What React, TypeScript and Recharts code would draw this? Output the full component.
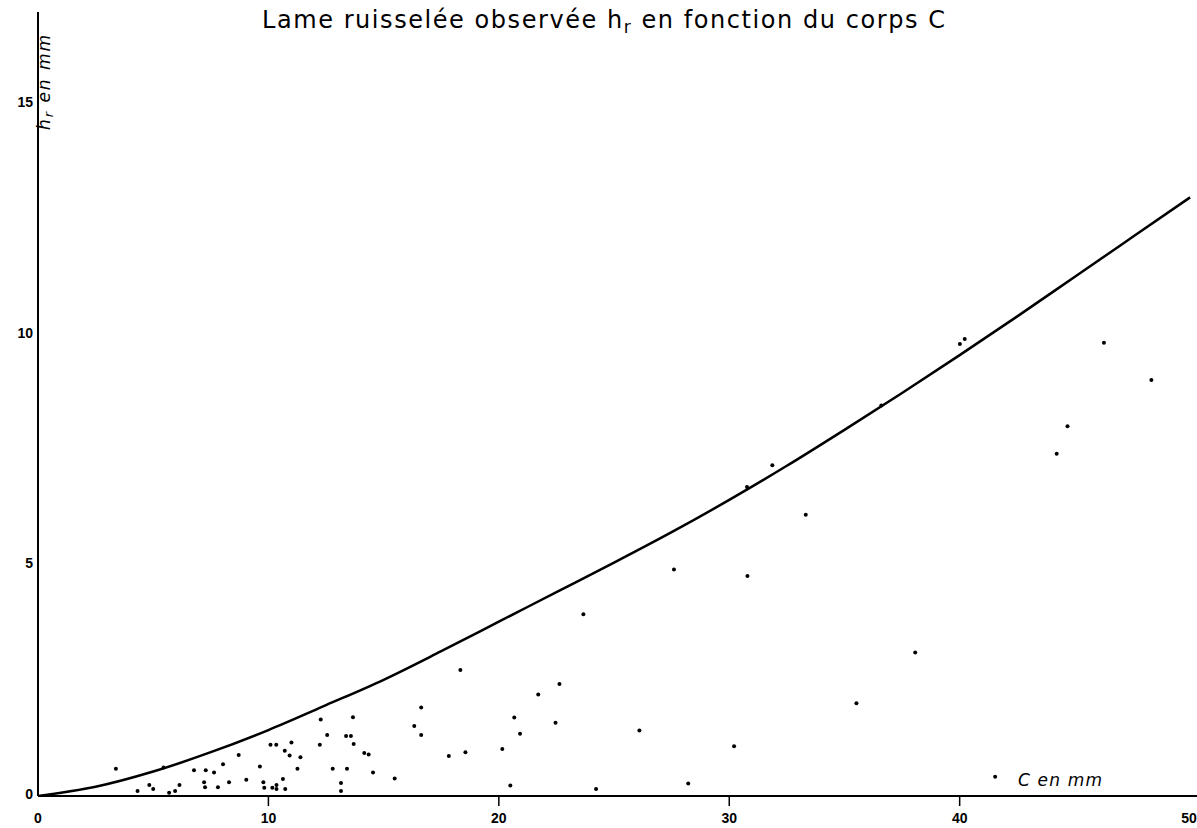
import React from "react";
import { ComposedChart, Line, Scatter, XAxis, YAxis } from "recharts";

const xTicks = [0, 10, 20, 30, 40, 50];
const yTicks = [0, 5, 10, 15];

// fitted envelope curve hr = f(C)
const curveC = [0, 2.5, 5, 7.5, 10, 12.5, 15, 17.5, 20, 22.5, 25, 27.5, 30, 32.5, 35, 37.5, 40, 42.5, 45, 47.5, 50];
const curveH = [0, 0.2, 0.53, 0.95, 1.43, 1.97, 2.52, 3.14, 3.78, 4.42, 5.06, 5.72, 6.42, 7.16, 7.94, 8.74, 9.56, 10.4, 11.26, 12.12, 12.98];

// observed points (C, hr)
const obsC = [
  3.38, 5.45, 4.32, 4.83, 5.0, 5.69, 5.95, 6.14, 6.77, 7.28, 7.21, 7.25, 7.64, 7.81, 8.03, 8.29,
  8.71, 9.04, 9.63, 9.78, 9.82, 10.09, 10.34, 10.17, 10.35, 10.35, 10.63, 10.71, 10.73, 10.92,
  11.0, 11.39, 11.26, 12.27, 12.23, 12.55, 12.79, 13.15, 13.15, 13.37, 13.58, 13.67, 13.7, 13.41,
  14.16, 14.35, 14.54, 15.48, 16.33, 16.63, 16.63, 17.83, 18.55, 18.33, 20.15, 20.5, 20.67, 20.92,
  21.71, 22.46, 22.63, 23.67, 24.22, 26.1, 27.6, 28.22, 30.21, 30.79, 30.77, 31.87, 33.32, 36.6,
  38.07, 35.52, 40.01, 40.22, 41.54, 44.21, 44.68, 46.26, 48.32,
];
const obsH = [
  0.59, 0.62, 0.11, 0.24, 0.15, 0.07, 0.11, 0.24, 0.56, 0.56, 0.3, 0.19, 0.51, 0.19, 0.69, 0.3,
  0.89, 0.35, 0.64, 0.3, 0.18, 1.11, 1.11, 0.18, 0.24, 0.15, 0.37, 0.98, 0.15, 0.88,
  1.16, 0.84, 0.59, 1.66, 1.11, 1.32, 0.59, 0.28, 0.11, 1.3, 1.3, 1.71, 1.13, 0.59,
  0.93, 0.9, 0.51, 0.38, 1.52, 1.92, 1.32, 0.87, 0.95, 2.73, 1.02, 0.23, 1.7, 1.35,
  2.2, 1.59, 2.43, 3.94, 0.15, 1.42, 4.91, 0.27, 1.08, 4.77, 6.7, 7.17, 6.1, 8.47,
  3.11, 2.01, 9.8, 9.91, 0.42, 7.42, 8.02, 9.83, 9.02,
];

const curveData = curveC.map((c, i) => ({ c, h: curveH[i] }));
const obsData = obsC.map((c, i) => ({ c, h: obsH[i] }));

const tickFont = "'Liberation Sans', Arial, sans-serif";

function XTick(props: any) {
  const { x, payload } = props;
  const v = payload.value;
  return (
    <g>
      {v > 0 && v < 50 && <line x1={x} x2={x} y1={796} y2={806} stroke="#000" strokeWidth={1.5} />}
      <text x={x} y={823} textAnchor="middle" fontFamily={tickFont} fontWeight="bold" fontSize={14} fill="#000">
        {v}
      </text>
    </g>
  );
}

function YTick(props: any) {
  const { y, payload } = props;
  return (
    <text x={33} y={y + 3} textAnchor="end" fontFamily={tickFont} fontWeight="bold" fontSize={14} fill="#000">
      {payload.value}
    </text>
  );
}

function Dot(props: any) {
  return <circle cx={props.cx} cy={props.cy} r={2} fill="#000" />;
}

export default function App() {
  return (
    <div style={{ position: "absolute", left: 0, top: 0, width: 1197, height: 828, background: "#fff" }}>
      <ComposedChart width={1197} height={828} margin={{ top: 12, right: 0, bottom: 0, left: 0 }}>
        <XAxis
          dataKey="c"
          type="number"
          domain={[0, 50.3]}
          ticks={xTicks}
          height={32}
          axisLine={{ stroke: "#000", strokeWidth: 2 }}
          tickLine={false}
          tick={<XTick />}
          allowDataOverflow
        />
        <YAxis
          dataKey="h"
          type="number"
          domain={[0, 17]}
          ticks={yTicks}
          width={38}
          axisLine={{ stroke: "#000", strokeWidth: 2 }}
          tickLine={false}
          tick={<YTick />}
          allowDataOverflow
        />
        <Line
          data={curveData}
          dataKey="h"
          type="monotone"
          stroke="#000"
          strokeWidth={2.5}
          dot={false}
          activeDot={false}
          isAnimationActive={false}
        />
        <Scatter data={obsData} dataKey="h" shape={<Dot />} isAnimationActive={false} />
      </ComposedChart>
      <svg
        width={1197}
        height={828}
        style={{ position: "absolute", left: 0, top: 0, pointerEvents: "none" }}
      >
        <text x={262} y={28} fontFamily="'DejaVu Sans', sans-serif" fontSize={24} fill="#000" textLength={683} lengthAdjust="spacing">
          Lame ruisselée observée h
          <tspan dy={5} fontSize={17}>r</tspan>
          <tspan dy={-5}> en fonction du corps C</tspan>
        </text>
        <text
          transform="translate(50,130) rotate(-90)"
          fontFamily="'DejaVu Sans', sans-serif"
          fontStyle="italic"
          fontSize={17}
          fill="#000"
          textLength={95}
          lengthAdjust="spacing"
        >
          h<tspan dy={3} fontSize={13}>r</tspan>
          <tspan dy={-3}> en mm</tspan>
        </text>
        <text x={1018} y={786} fontFamily="'DejaVu Sans', sans-serif" fontStyle="italic" fontSize={17} fill="#000" textLength={84} lengthAdjust="spacing">
          C en mm
        </text>
      </svg>
    </div>
  );
}
